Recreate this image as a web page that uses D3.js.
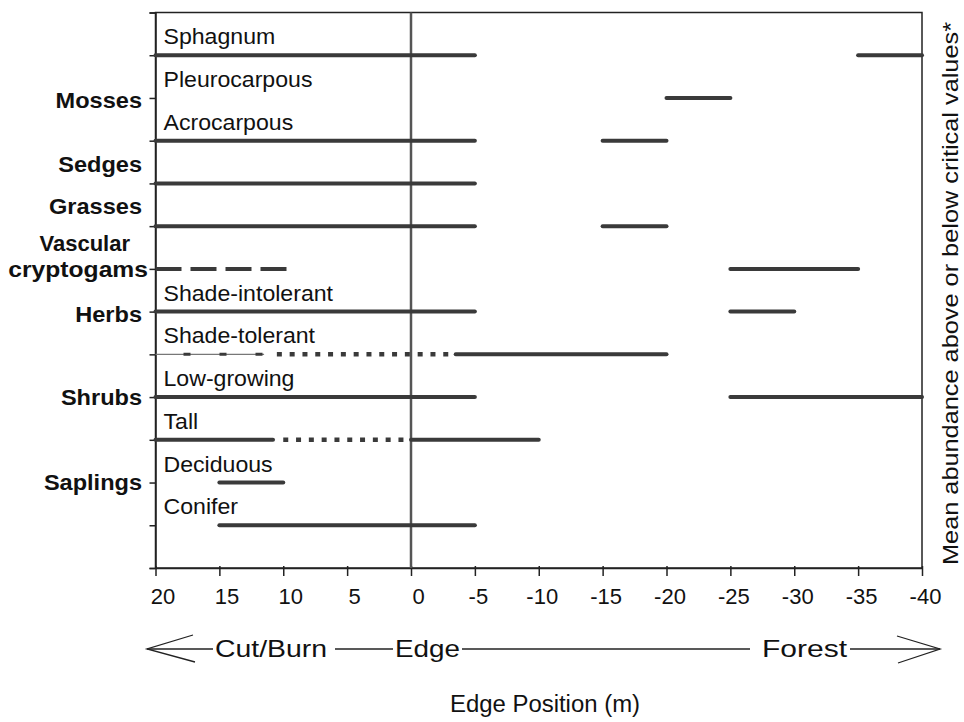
<!DOCTYPE html>
<html><head><meta charset="utf-8">
<script src="https://cdn.jsdelivr.net/npm/d3@7"></script>
<style>body{margin:0;background:#fff}text{font-family:"Liberation Sans",Arial,sans-serif;fill:#111}</style>
</head><body><svg id="c" width="964" height="722"></svg>
<script>
// ---- data ----
const rows = ["Sphagnum","Pleurocarpous","Acrocarpous","Sedges","Grasses","Vascular cryptogams",
  "Shade-intolerant","Shade-tolerant","Low-growing","Tall","Deciduous","Conifer"];
const subLabels = ["Sphagnum","Pleurocarpous","Acrocarpous","","","",
  "Shade-intolerant","Shade-tolerant","Low-growing","Tall","Deciduous","Conifer"];
const groupNames = ["Mosses","Sedges","Grasses","Vascular|cryptogams","Herbs","Shrubs","Saplings"];
const groupPos   = [2.05, 3.55, 4.53, 6.05, 7.05, 9, 11.0];
const xTicks = [20,15,10,5,0,-5,-10,-15,-20,-25,-30,-35,-40];
const zoneLabels = ["Cut/Burn","Edge","Forest"];
// segments: row name, from, to (edge position, m), line type
const segRow  = ["Sphagnum","Sphagnum","Pleurocarpous","Acrocarpous","Acrocarpous","Sedges","Grasses","Grasses",
  "Vascular cryptogams","Vascular cryptogams","Shade-intolerant","Shade-intolerant",
  "Shade-tolerant","Shade-tolerant","Shade-tolerant","Low-growing","Low-growing",
  "Tall","Tall","Tall","Deciduous","Conifer"];
const segFrom = [20,-35,-20,20,-15,20,20,-15, 20,-25, 20,-25, 20,10.5,-3.5, 20,-25, 20,10,0, 15,15];
const segTo   = [-5,-40,-25,-5,-20,-5,-5,-20, 9.7,-35, -5,-30, 11.5,-3.1,-20, -5,-40, 10.8,0.4,-10, 10,-5];
const segType = ["solid","solid","solid","solid","solid","solid","solid","solid",
  "dashed","solid","solid","solid","thin","dotted","solid","solid","solid",
  "solid","dotted","solid","solid","solid"];

// ---- drawing ----
const svg = d3.select("#c");
const L=155.5, R=922, T=12.5, B=568;
const x = d3.scaleLinear().domain([20,-40]).range([L,R]);
const y = d3.scaleLinear().domain([0,13]).range([T,B]);
const rowIdx = n => rows.indexOf(n)+1;
const ink = "#3a3a3a";
function stretch(sel, k){ sel.each(function(){ const w=this.getComputedTextLength();
  d3.select(this).attr("textLength",w*k).attr("lengthAdjust","spacingAndGlyphs"); }); }

// frame
svg.append("rect").attr("x",L).attr("y",T).attr("width",R-L).attr("height",B-T)
  .attr("fill","none").attr("stroke","#222").attr("stroke-width",1.5);

// left axis ticks
const yAxis = d3.axisLeft(y).tickValues(d3.range(0,14)).tickFormat("").tickSizeOuter(0).tickSize(6);
const ga = svg.append("g").attr("transform",`translate(${L},0)`).call(yAxis);
ga.select(".domain").attr("stroke","#222").attr("stroke-width",1.5);
ga.selectAll(".tick line").attr("stroke","#222").attr("stroke-width",1.5);

// bottom axis
const xAxis = d3.axisBottom(x).tickValues(xTicks).tickSize(8).tickSizeOuter(0)
  .tickFormat(d=>String(d));
const gx = svg.append("g").attr("transform",`translate(0,${B})`).call(xAxis);
gx.select(".domain").attr("stroke","#222").attr("stroke-width",1.5);
gx.selectAll(".tick line").attr("stroke","#222").attr("stroke-width",1.5).attr("y1",-2);
gx.selectAll(".tick text").attr("font-size",22).attr("fill","#111")
  .attr("y",36).attr("dy",0).attr("dx",d=>d>=0?7:3);

// zero line
svg.append("line").attr("x1",x(0)).attr("x2",x(0)).attr("y1",T).attr("y2",B)
  .attr("stroke","#555").attr("stroke-width",2.5);

// segments
const segs = segRow.map((r,i)=>({r, a:segFrom[i], b:segTo[i], t:segType[i]}));
const gs = svg.append("g");
segs.forEach(s=>{
  const yy = y(rowIdx(s.r));
  if(s.t==="thin"){
    gs.append("line").attr("x1",x(s.a)).attr("x2",x(s.b)).attr("y1",yy).attr("y2",yy)
      .attr("stroke","#777").attr("stroke-width",1.2);
    gs.append("line").attr("x1",x(s.a)+28).attr("x2",x(s.b)).attr("y1",yy).attr("y2",yy)
      .attr("stroke",ink).attr("stroke-width",3).attr("stroke-dasharray","7,29");
    return;
  }
  const ln = gs.append("line").attr("x1",x(s.a)).attr("x2",x(s.b)).attr("y1",yy).attr("y2",yy)
    .attr("stroke",ink).attr("stroke-width",4);
  if(s.t==="solid") ln.attr("stroke-linecap","round");
  if(s.t==="dashed") ln.attr("stroke-dasharray","26,9");
  if(s.t==="dotted") ln.attr("stroke-dasharray","5,7.8").attr("stroke-width",4.5);
});

// sub labels inside plot (centred between the row line and the one above)
rows.forEach((r,i)=>{
  if(!subLabels[i]) return;
  svg.append("text").attr("x",L+8).attr("y",y(i+0.5)+2.5).attr("dy","0.36em").attr("font-size",22)
    .text(subLabels[i]).call(stretch,1.05);
});

// group labels
groupNames.forEach((g,i)=>{
  const parts = g.split("|");
  if(parts.length===1){
    svg.append("text").attr("text-anchor","end").attr("font-size",22).attr("font-weight","bold")
      .attr("x",142).attr("y",y(groupPos[i])).attr("dy","0.36em").text(parts[0]).call(stretch,1.07);
  } else {
    svg.append("text").attr("text-anchor","end").attr("font-size",22).attr("font-weight","bold")
      .attr("x",130).attr("y",y(groupPos[i])-28).attr("dy","0.36em").text(parts[0]).call(stretch,1.0);
    svg.append("text").attr("text-anchor","end").attr("font-size",22).attr("font-weight","bold")
      .attr("x",148).attr("y",y(groupPos[i])+6).text(parts[1]).call(stretch,1.12);
  }
});

// right axis title
svg.append("text").attr("transform",`translate(958,${(22+565)/2}) rotate(-90)`)
  .attr("text-anchor","middle").attr("font-size",22)
  .attr("textLength",543).attr("lengthAdjust","spacingAndGlyphs")
  .text("Mean abundance above or below critical values*");

// arrow row
const ay = 649;
const ag = svg.append("g").attr("stroke","#222").attr("stroke-width",1.3).attr("fill","none");
ag.append("line").attr("x1",147).attr("x2",213).attr("y1",ay).attr("y2",ay);
ag.append("polyline").attr("points",`193,635 147,${ay} 195,662`);
ag.append("line").attr("x1",335).attr("x2",393).attr("y1",ay).attr("y2",ay);
ag.append("line").attr("x1",462).attr("x2",750).attr("y1",ay).attr("y2",ay);
ag.append("line").attr("x1",850).attr("x2",940).attr("y1",ay).attr("y2",ay);
ag.append("polyline").attr("points",`897,636 940,${ay} 898,663`);
const zoneX = [215,395,762], zoneW = [112,65,85];
zoneLabels.forEach((t,i)=>{
  svg.append("text").attr("x",zoneX[i]).attr("y",657).attr("font-size",24)
    .attr("textLength",zoneW[i]).attr("lengthAdjust","spacingAndGlyphs").text(t);
});

// x title
svg.append("text").attr("x",545).attr("y",712).attr("text-anchor","middle")
  .attr("font-size",23).text("Edge Position (m)").call(stretch,1.04);
</script></body></html>
